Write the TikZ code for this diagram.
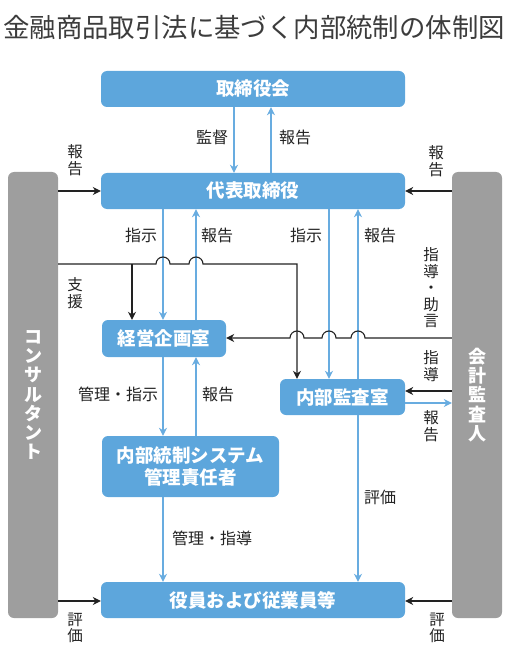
\documentclass[tikz,border=0pt]{standalone}
\usepackage{fontspec}
\setmainfont{Noto Sans CJK JP}
\usetikzlibrary{arrows.meta}
\definecolor{boxblue}{HTML}{5DA6DC}
\definecolor{lineblue}{HTML}{68ACE0}
\definecolor{bargray}{HTML}{9E9E9E}
\definecolor{ink}{HTML}{222222}
\definecolor{titlegray}{HTML}{3C3C3C}
\begin{document}
\begin{tikzpicture}[x=1pt,y=-1pt,
 bluebox/.style={fill=boxblue, rounded corners=6pt, text=white, font=\bfseries\fontsize{18.5}{21.5}\selectfont, align=center, inner sep=0pt},
 graybar/.style={fill=bargray, rounded corners=6pt, text=white, font=\bfseries\fontsize{18}{19.3}\selectfont, align=center, inner sep=0pt, minimum width=50pt, minimum height=446pt},
 barrow/.style={draw=lineblue, line width=1.3pt, -{Stealth[length=8pt,width=8pt]}},
 karrow/.style={draw=ink, line width=1.1pt, -{Stealth[length=8pt,width=8pt]}},
 lbl/.style={text=ink, font=\fontsize{16}{17}\selectfont, inner sep=0pt},
 vlbl/.style={text=ink, font=\fontsize{15.5}{16.5}\selectfont, inner sep=0pt, align=center},
]
\useasboundingbox (0,0) rectangle (508,647);
\node[font=\fontsize{26.4}{28}\selectfont, text=titlegray, inner sep=0pt] (title) at (254,27.5) {金融商品取引法に基づく内部統制の体制図};

% boxes
\node[bluebox, minimum width=304pt, minimum height=36pt] (board) at (253,89) {取締役会};
\node[bluebox, minimum width=304pt, minimum height=36pt] (ceo) at (253,191) {代表取締役};
\node[bluebox, minimum width=124pt, minimum height=37pt] (keiei) at (164,338.5) {経営企画室};
\node[bluebox, minimum width=125pt, minimum height=36pt] (kansa) at (342.5,397) {内部監査室};
\node[bluebox, minimum width=177pt, minimum height=61pt] (sekinin) at (190.5,466.5) {内部統制システム\\管理責任者};
\node[bluebox, minimum width=304pt, minimum height=36pt] (staff) at (253,600) {役員および従業員等};
\node[graybar] (lbar) at (33,395) {コ\\ン\\サ\\ル\\タ\\ン\\ト};
\node[graybar] (rbar) at (477,395) {会\\計\\監\\査\\人};

% helper coordinates
\coordinate (xa) at (234,0);
\coordinate (xb) at (271,0);
\coordinate (xc) at (163,0);
\coordinate (xd) at (196,0);
\coordinate (xe) at (329,0);
\coordinate (xf) at (358,0);
\coordinate (xg) at (297,0);
\coordinate (xh) at (132,0);
\coordinate (ytop) at (0,191);
\coordinate (ybot) at (0,601);
\coordinate (ysup) at (0,264);
\coordinate (yadv) at (0,338);
\coordinate (yk1) at (0,391);
\coordinate (yk2) at (0,403);

% blue connectors
\draw[barrow] (board.south -| xa) -- (ceo.north -| xa);
\draw[barrow] (ceo.north -| xb) -- (board.south -| xb);
\draw[barrow] (ceo.south -| xc) -- (keiei.north -| xc);
\draw[barrow] (keiei.north -| xd) -- (ceo.south -| xd);
\draw[barrow] (keiei.south -| xc) -- (sekinin.north -| xc);
\draw[barrow] (sekinin.north -| xd) -- (keiei.south -| xd);
\draw[barrow] (sekinin.south -| xc) -- (staff.north -| xc);
\draw[barrow] (ceo.south -| xe) -- (kansa.north -| xe);
\draw[barrow] (kansa.north -| xf) -- (ceo.south -| xf);
\draw[barrow] (kansa.south -| xf) -- (staff.north -| xf);
\draw[barrow] (kansa.east |- yk2) -- (rbar.west |- yk2);

% black connectors
\draw[karrow] (lbar.east |- ytop) -- (ceo.west |- ytop);
\draw[karrow] (rbar.west |- ytop) -- (ceo.east |- ytop);
\draw[karrow] (lbar.east |- ybot) -- (staff.west |- ybot);
\draw[karrow] (rbar.west |- ybot) -- (staff.east |- ybot);
\draw[karrow] (rbar.west |- yk1) -- (kansa.east |- yk1);
\draw[karrow] (lbar.east |- ysup) -- (156,264) arc[start angle=180,end angle=0,radius=7pt]
  -- (189,264) arc[start angle=180,end angle=0,radius=7pt]
  -- (xg |- ysup) -- (kansa.north -| xg);
\draw[karrow] (xh |- ysup) -- (keiei.north -| xh);
\draw[karrow] (rbar.west |- yadv) -- (365,338) arc[start angle=0,end angle=180,radius=7pt]
  -- (336,338) arc[start angle=0,end angle=180,radius=7pt]
  -- (304,338) arc[start angle=0,end angle=180,radius=7pt]
  -- (keiei.east |- yadv);

% labels
\node[lbl] (l1) at (212,137) {監督};
\node[lbl] (l2) at (295,137) {報告};
\node[vlbl] (l3) at (75,160) {報\\告};
\node[vlbl] (l4) at (436,161) {報\\告};
\node[lbl] (l5) at (141,235) {指示};
\node[lbl] (l6) at (217,235) {報告};
\node[lbl] (l7) at (306,235) {指示};
\node[lbl] (l8) at (380,235) {報告};
\node[vlbl] (l9) at (75,293) {支\\援};
\node[vlbl] (l10) at (431,288) {指\\導\\・\\助\\言};
\node[vlbl] (l11) at (431,366) {指\\導};
\node[vlbl] (l12) at (431,426) {報\\告};
\node[lbl] (l13) at (118,394) {管理・指示};
\node[lbl] (l14) at (218,394) {報告};
\node[lbl] (l15) at (380,497) {評価};
\node[lbl] (l16) at (212,538) {管理・指導};
\node[vlbl] (l17) at (75,628) {評\\価};
\node[vlbl] (l18) at (437,628) {評\\価};
\end{tikzpicture}
\end{document}
